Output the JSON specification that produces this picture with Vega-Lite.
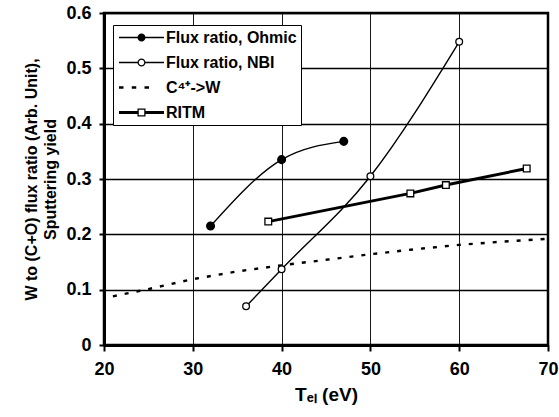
{
  "$schema": "https://vega.github.io/schema/vega-lite/v6.json",
  "width": 444,
  "height": 332,
  "autosize": {"type": "none"},
  "padding": {"left": 104, "top": 13, "right": 11, "bottom": 72},
  "background": "white",
  "config": {
    "view": {"stroke": "black", "strokeWidth": 2.5},
    "font": "Liberation Sans",
    "axis": {
      "labelFont": "Liberation Sans", "labelFontWeight": "bold", "labelFontSize": 18, "labelColor": "black",
      "titleFont": "Liberation Sans", "titleFontWeight": "bold", "titleFontSize": 16, "titleColor": "black",
      "domainColor": "black", "domainWidth": 3, "tickColor": "black", "tickWidth": 2
    },
    "legend": {
      "labelFont": "Liberation Sans", "labelFontWeight": "bold", "labelFontSize": 16, "labelColor": "black"
    }
  },
  "data": {
    "values": [
      {"series": "Flux ratio, Ohmic", "T": 32, "y": 0.215},
      {"series": "Flux ratio, Ohmic", "T": 40, "y": 0.335},
      {"series": "Flux ratio, Ohmic", "T": 47, "y": 0.368},
      {"series": "Flux ratio, NBI", "T": 36, "y": 0.07},
      {"series": "Flux ratio, NBI", "T": 40, "y": 0.137},
      {"series": "Flux ratio, NBI", "T": 50, "y": 0.305},
      {"series": "Flux ratio, NBI", "T": 60, "y": 0.548},
      {"series": "C⁴⁺->W", "T": 21, "y": 0.088},
      {"series": "C⁴⁺->W", "T": 25, "y": 0.101},
      {"series": "C⁴⁺->W", "T": 30, "y": 0.119},
      {"series": "C⁴⁺->W", "T": 35, "y": 0.133},
      {"series": "C⁴⁺->W", "T": 40, "y": 0.144},
      {"series": "C⁴⁺->W", "T": 45, "y": 0.154},
      {"series": "C⁴⁺->W", "T": 50, "y": 0.164},
      {"series": "C⁴⁺->W", "T": 55, "y": 0.173},
      {"series": "C⁴⁺->W", "T": 60, "y": 0.181},
      {"series": "C⁴⁺->W", "T": 65, "y": 0.187},
      {"series": "C⁴⁺->W", "T": 70, "y": 0.192},
      {"series": "RITM", "T": 38.5, "y": 0.223},
      {"series": "RITM", "T": 54.5, "y": 0.274},
      {"series": "RITM", "T": 58.5, "y": 0.289},
      {"series": "RITM", "T": 67.6, "y": 0.319}
    ]
  },
  "encoding": {
    "x": {
      "field": "T", "type": "quantitative",
      "scale": {"domain": [20, 70], "nice": false, "zero": false},
      "axis": {
        "grid": true, "gridColor": "#000000", "gridOpacity": 1, "gridWidth": 0.9, "zindex": 0,
        "values": [20, 30, 40, 50, 60, 70], "title": "Tₑₗ (eV)", "titleFontSize": 19,
        "tickSize": 6, "labelPadding": 9, "titlePadding": 7,
        "labelFlush": false
      }
    },
    "y": {
      "field": "y", "type": "quantitative",
      "scale": {"domain": [0, 0.6], "nice": false},
      "axis": {
        "grid": true, "gridColor": "#000000", "gridOpacity": 1, "gridWidth": 1.3, "zindex": 0,
        "values": [0, 0.1, 0.2, 0.3, 0.4, 0.5, 0.6],
        "labelExpr": "datum.value == 0 ? '0' : format(datum.value, '.1f')",
        "title": ["W to (C+O) flux ratio (Arb. Unit),", "Sputtering yield"],
        "tickSize": 5, "labelPadding": 8, "titlePadding": 7, "titleLineHeight": 19
      }
    }
  },
  "layer": [
    {
      "transform": [{"filter": "datum.series == 'Flux ratio, Ohmic' || datum.series == 'Flux ratio, NBI'"}],
      "mark": {"type": "line", "color": "black", "strokeWidth": 1.4, "interpolate": "monotone"},
      "encoding": {"detail": {"field": "series"}}
    },
    {
      "transform": [{"filter": "datum.series == 'C⁴⁺->W'"}],
      "mark": {"type": "line", "color": "black", "strokeWidth": 2.4, "strokeDash": [4, 8]}
    },
    {
      "transform": [{"filter": "datum.series == 'RITM'"}],
      "mark": {"type": "line", "color": "black", "strokeWidth": 3}
    },
    {
      "transform": [{"filter": "datum.series == 'Flux ratio, Ohmic'"}],
      "mark": {"type": "point", "shape": "circle", "filled": true, "fill": "black", "stroke": "black", "size": 50, "opacity": 1}
    },
    {
      "transform": [{"filter": "datum.series == 'Flux ratio, NBI'"}],
      "mark": {"type": "point", "shape": "circle", "filled": true, "fill": "white", "stroke": "black", "strokeWidth": 1.3, "size": 45, "opacity": 1}
    },
    {
      "transform": [{"filter": "datum.series == 'RITM'"}],
      "mark": {"type": "point", "shape": "square", "filled": true, "fill": "white", "stroke": "black", "strokeWidth": 1.3, "size": 45, "opacity": 1}
    },
    {
      "transform": [{"filter": "datum.series == 'none'"}],
      "mark": {"type": "point", "filled": false, "strokeWidth": 1.3, "opacity": 1},
      "encoding": {
        "shape": {
          "field": "series", "type": "nominal",
          "scale": {
            "domain": ["Flux ratio, Ohmic", "Flux ratio, NBI", "C⁴⁺->W", "RITM"],
            "range": [
              "M-3,0H3M0.45,0A0.45,0.45 0 1 1 -0.45,0A0.45,0.45 0 1 1 0.45,0Z",
              "M-3,0H-0.45M0.45,0H3M0.45,0A0.45,0.45 0 1 1 -0.45,0A0.45,0.45 0 1 1 0.45,0Z",
              "M-3,-0.08H-2.4M-3,0.08H-2.4M-3,0H-2.4M-1.3,-0.08H-0.7M-1.3,0.08H-0.7M-1.3,0H-0.7M0.4,-0.08H1.0M0.4,0.08H1.0M0.4,0H1.0",
              "M-3,-0.1H-0.45M-3,0.1H-0.45M-3,0H-0.45M0.45,-0.1H3M0.45,0.1H3M0.45,0H3M-0.45,-0.45H0.45V0.45H-0.45Z"
            ]
          },
          "legend": {
            "title": null, "orient": "none", "legendX": 9, "legendY": 12,
            "symbolSize": 225, "symbolOffset": 16, "labelOffset": 16,
            "rowPadding": 8, "padding": 4,
            "strokeColor": "black", "fillColor": "white",
            "symbolStrokeColor": "black", "symbolStrokeWidth": 1.3
          }
        },
        "fill": {
          "field": "series", "type": "nominal",
          "scale": {
            "domain": ["Flux ratio, Ohmic", "Flux ratio, NBI", "C⁴⁺->W", "RITM"],
            "range": ["black", "white", "white", "white"]
          },
          "legend": {
            "title": null, "orient": "none", "legendX": 9, "legendY": 12,
            "symbolSize": 225, "symbolOffset": 16, "labelOffset": 16,
            "rowPadding": 8, "padding": 4,
            "strokeColor": "black", "fillColor": "white",
            "symbolStrokeColor": "black", "symbolStrokeWidth": 1.3
          }
        },
        "stroke": {
          "field": "series", "type": "nominal",
          "scale": {
            "domain": ["Flux ratio, Ohmic", "Flux ratio, NBI", "C⁴⁺->W", "RITM"],
            "range": ["black", "black", "black", "black"]
          },
          "legend": {
            "title": null, "orient": "none", "legendX": 9, "legendY": 12,
            "symbolSize": 225, "symbolOffset": 16, "labelOffset": 16,
            "rowPadding": 8, "padding": 4,
            "strokeColor": "black", "fillColor": "white",
            "symbolStrokeColor": "black", "symbolStrokeWidth": 1.3
          }
        }
      }
    }
  ]
}
